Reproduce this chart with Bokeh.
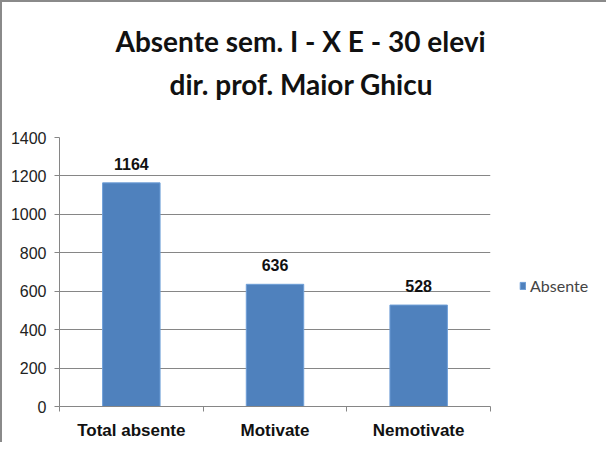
from bokeh.plotting import figure
from bokeh.models import (ColumnDataSource, FixedTicker, LabelSet, Legend, LegendItem,
                          Title, LinearAxis)
from bokeh.core.properties import value
from bokeh.embed import file_html
from bokeh.resources import INLINE

categories = ["Total absente", "Motivate", "Nemotivate"]
values = [1164, 636, 528]
series_name = "Absente"
title_line1 = "Absente sem. I - X E - 30 elevi"
title_line2 = "dir. prof. Maior Ghicu"
y_ticks = [0, 200, 400, 600, 800, 1000, 1200, 1400]

xpos = [i + 0.5 for i in range(len(categories))]
src = ColumnDataSource(dict(x=xpos, top=values, lab=[str(v) for v in values]))

p = figure(frame_width=431, frame_height=269, output_backend="svg", toolbar_location=None,
           x_range=(0, len(categories)), y_range=(0, 1400), title=None,
           min_border_left=57, min_border_right=102, min_border_top=135, min_border_bottom=36)
p.outline_line_color = None
p.background_fill_color = "white"
p.border_fill_color = "white"
p.styles = {"border-left": "2px solid #8a8a8a", "border-top": "2px solid #8a8a8a"}

bars = p.vbar(x="x", top="top", width=0.4, source=src, fill_color="#4F81BD",
              line_color="#6f9fd8", line_width=1)

# axes
p.xaxis.ticker = FixedTicker(ticks=xpos, minor_ticks=list(range(len(categories) + 1)))
p.xaxis.major_label_overrides = {x: c for x, c in zip(xpos, categories)}
p.xaxis.major_tick_line_color = None
p.xaxis.minor_tick_line_color = "#868686"
p.xaxis.minor_tick_in = 0
p.xaxis.minor_tick_out = 5
p.xaxis.axis_line_color = "#868686"
p.xaxis.major_label_text_font = "Liberation Sans"
p.xaxis.major_label_text_font_style = "bold"
p.xaxis.major_label_text_font_size = "17px"
p.xaxis.major_label_text_color = "#111111"
p.xaxis.major_label_standoff = 8

p.yaxis.ticker = FixedTicker(ticks=y_ticks)
p.yaxis.minor_tick_line_color = None
p.yaxis.major_tick_line_color = "#868686"
p.yaxis.major_tick_in = 0
p.yaxis.major_tick_out = 5
p.yaxis.axis_line_color = "#868686"
p.yaxis.major_label_text_font = "Liberation Sans"
p.yaxis.major_label_text_font_size = "16px"
p.yaxis.major_label_text_color = "#222222"
p.yaxis.major_label_standoff = 8

p.xgrid.grid_line_color = None
p.ygrid.grid_line_color = "#868686"
p.ygrid.grid_line_width = 1

labels = LabelSet(x="x", y="top", text="lab", source=src, text_align="center",
                  text_baseline="alphabetic", y_offset=13,
                  text_font=value("Liberation Sans"), text_font_style="bold",
                  text_font_size="16px", text_color="#111111")
p.add_layout(labels)


def spacer_axis(size, tick):
    return LinearAxis(ticker=FixedTicker(ticks=[tick], minor_ticks=[]),
                      major_label_overrides={tick: ""}, major_tick_in=0,
                      major_tick_out=size, major_label_standoff=0,
                      major_label_text_font_size="1px", axis_line_color=None,
                      major_tick_line_color=None, minor_tick_line_color=None)


# title block: spacer nearest the frame, then line 2, then line 1
p.add_layout(spacer_axis(37, 0.5), "above")
t2 = Title(text=title_line2, align="left", offset=110, standoff=0,
           text_font="Lato", text_font_style="bold", text_font_size="28px",
           text_color="#111111")
t1 = Title(text=title_line1, align="left", offset=56, standoff=13,
           text_font="Lato", text_font_style="bold", text_font_size="28px",
           text_color="#111111")
p.add_layout(t2, "above")
p.add_layout(t1, "above")

legend = Legend(items=[LegendItem(label=series_name, renderers=[bars])],
                location=(29, 111), glyph_width=7, glyph_height=9,
                label_text_font="Lato", label_text_font_size="16px",
                label_standoff=4, border_line_color=None, background_fill_alpha=0,
                padding=0, margin=0)
p.add_layout(legend, "right")

open("out.html", "w").write(file_html(p, INLINE))
